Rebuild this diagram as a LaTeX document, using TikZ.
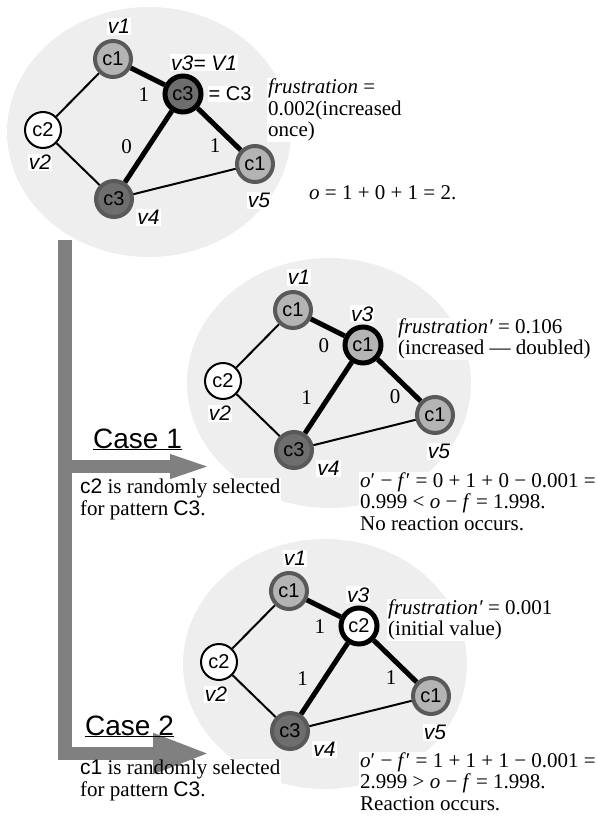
\documentclass[tikz,border=0pt]{standalone}
\usepackage{fontspec}
\setmainfont{Liberation Serif}
\newfontfamily\sansfnt{Liberation Sans}
\usepackage{tikz}
\usetikzlibrary{
  arrows.meta,
  positioning,
  backgrounds
}
\definecolor{ccLite}{HTML}{B4B4B4}
\definecolor{ccDark}{HTML}{6E6E6E}
\definecolor{ccRing}{HTML}{595959}
\definecolor{ccCloud}{HTML}{EEEEEE}
\definecolor{ccBar}{HTML}{808080}
\newcommand\txtsize{\fontsize{21}{21.5}\selectfont}
\newcommand\labsize{\fontsize{20}{22}\selectfont\sansfnt}
\newcommand\tagsize{\fontsize{21}{22}\selectfont\sansfnt}

\begin{document}
\begin{tikzpicture}[x=1pt, y=-1pt,
  cell/.style={circle, minimum size=36pt, inner sep=0pt, font=\labsize},
  lite/.style={cell, fill=ccLite, draw=ccRing, line width=4pt},
  dark/.style={cell, fill=ccDark, draw=ccRing, line width=4pt},
  blank/.style={cell, fill=white, draw=black, line width=2pt},
  hub/.style={draw=black, line width=5pt},
  vtag/.style={fill=white, inner sep=1pt, font=\tagsize\itshape},
  wt/.style={inner sep=1pt, font=\txtsize},
  link/.style={line width=2pt},
  heavy/.style={line width=5pt},
  remark/.style={align=left, inner sep=1pt, font=\txtsize},
  cloud/.style={fill=ccCloud},
  bar/.style={draw=ccBar, line width=13.5pt},
  casetag/.style={font=\fontsize{28}{30}\selectfont\sansfnt, inner sep=0pt}]
  \useasboundingbox (0,0) rectangle (596,818);
  \foreach \g/\ox/\oy/\hubkind/\hubtxt/\hubtag/\wA/\wB/\wC in {
    top/113/59/dark/c3/{v3= V1}/1/0/1,
    mid/293/310/lite/c1/v3/0/1/0,
    bot/289/591/blank/c2/v3/1/1/1}{
    \begin{scope}[shift={(\ox,\oy)}]
      \begin{scope}[on background layer]
        \fill[cloud] (36,73) ellipse [x radius=142, y radius=125];
      \end{scope}
      \node[lite] (\g-v1) at (0,0) {c1};
      \node[blank] (\g-v2) at (-70,71) {c2};
      \node[\hubkind, hub] (\g-v3) at (70,35) {\hubtxt};
      \node[dark] (\g-v4) at (1,140) {c3};
      \node[lite] (\g-v5) at (142,105) {c1};
      \node[vtag, above=4pt of \g-v1, xshift=6pt] (\g-t1) {v1};
      \node[vtag, below=5pt of \g-v2, xshift=-3pt] (\g-t2) {v2};
      \node[vtag, above=2pt of \g-v3, anchor=south west, xshift=-13pt] (\g-t3) {\hubtag};
      \node[vtag, below right=-4pt and 8pt of \g-v4] (\g-t4) {v4};
      \node[vtag, below=8pt of \g-v5, xshift=4pt] (\g-t5) {v5};
      \draw[link] (\g-v1) -- (\g-v2) -- (\g-v4) -- (\g-v5);
      \draw[heavy] (\g-v1) -- node[wt, below=8pt, xshift=-4pt] (\g-e1) {\wA} (\g-v3);
      \draw[heavy] (\g-v3) -- node[wt, left=13pt] (\g-e2) {\wB} (\g-v4);
      \draw[heavy] (\g-v3) -- node[wt, below=6pt, xshift=-4pt] (\g-e3) {\wC} (\g-v5);
    \end{scope}
  }
  \node[vtag, font=\labsize, right=4pt of top-v3] (top-eq) {= C3};
  \node[remark, fill=white, anchor=north west] (top-note) at (267,78)
    {\textit{frustration} =\\0.002(increased\\once)};
  \node[remark, anchor=base west] (top-sum) at (308,200) {\textit{o} = 1 + 0 + 1 = 2.};
  \node[remark, fill=white, anchor=north west] (mid-note) at (397,317.5)
    {\textit{frustration′} = 0.106\\(increased — doubled)};
  \node[remark, fill=white, anchor=north west] (mid-sum) at (359,471.5)
    {\textit{o}′ − \textit{f}′ = 0 + 1 + 0 − 0.001 =\\0.999 < \textit{o} − \textit{f} = 1.998.\\No reaction occurs.};
  \node[remark, fill=white, anchor=north west] (bot-note) at (387,598.5)
    {\textit{frustration′} = 0.001\\(initial value)};
  \node[remark, fill=white, anchor=north west] (bot-sum) at (359,751.5)
    {\textit{o}′ − \textit{f}′ = 1 + 1 + 1 − 0.001 =\\2.999 > \textit{o} − \textit{f} = 1.998.\\Reaction occurs.};
  \coordinate (trunk) at (65,240);
  \coordinate (tip1) at (213,466.5);
  \coordinate (tip2) at (210,753.5);
  \draw[bar, -{Triangle[length=43pt, width=21pt]}] (trunk |- tip1) -- (tip1);
  \draw[bar, -{Triangle[length=57pt, width=37pt]}] (trunk) |- (tip2);
  \node[casetag, anchor=base west] (case1) at (93,448) {\underline{Case 1}};
  \node[casetag, anchor=base west] (case2) at (85,735) {\underline{Case 2}};
  \node[remark, anchor=north west] (pick1) at (79,478)
    {{\sansfnt c2} is randomly selected\\for pattern {\sansfnt C3}.};
  \node[remark, anchor=north west] (pick2) at (79,759)
    {{\sansfnt c1} is randomly selected\\for pattern {\sansfnt C3}.};
  \begin{scope}[on background layer]
    \fill[white] (pick1.south west) rectangle (pick1.north east);
    \fill[white] (pick2.south west) rectangle (pick2.north east);
  \end{scope}
\end{tikzpicture}
\end{document}
